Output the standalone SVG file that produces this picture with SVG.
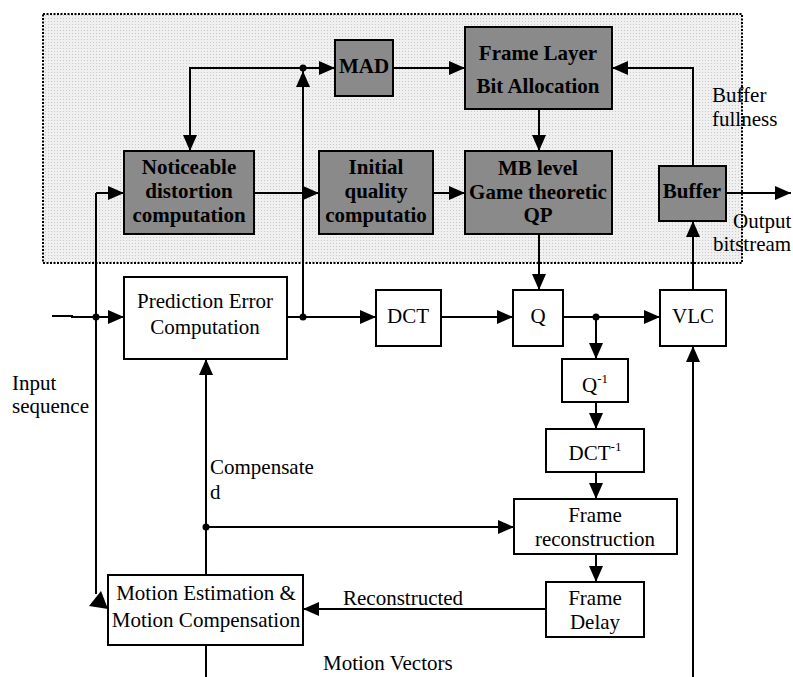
<svg xmlns="http://www.w3.org/2000/svg" width="793" height="677" viewBox="0 0 793 677">
<defs>
<pattern id="dots" width="3" height="3" patternUnits="userSpaceOnUse">
<rect width="3" height="3" fill="#f0f0f0"/>
<rect width="1" height="1" fill="#c8c8c8"/>
</pattern>
<marker id="ah" viewBox="0 0 16 14" refX="16" refY="7" markerWidth="16" markerHeight="14" markerUnits="userSpaceOnUse" orient="auto">
<path d="M0,0 L16,7 L0,14 Z" fill="#000"/>
</marker>
</defs>
<style>
.box{fill:#fff;stroke:#000;stroke-width:2}
.gbox{fill:#8a8a8a;stroke:#000;stroke-width:2}
.t{font-family:"Liberation Serif","Times New Roman",serif;font-size:21px;fill:#000}
.b{font-family:"Liberation Serif","Times New Roman",serif;font-size:21px;font-weight:bold;fill:#000}
.c{text-anchor:middle}
.ln{fill:none;stroke:#000;stroke-width:2}
.ar{fill:none;stroke:#000;stroke-width:2;marker-end:url(#ah)}
.dot{fill:#000}
</style>
<rect x="43" y="14" width="699" height="249" fill="url(#dots)" stroke="#000" stroke-width="2" stroke-dasharray="2,1.5"/>

<g id="connectors">
<path class="ln" d="M52,316 H72 V317 H80"/>
<path class="ar" d="M72,317 H124"/>
<path class="ln" d="M96,193 V594"/>
<polygon points="89,606 101,591 108,609" fill="#000"/>
<path class="ar" d="M96,193 H124"/>
<path class="ar" d="M254,193 H319"/>
<path class="ar" d="M303,317 V71"/>
<path class="ar" d="M303,68 H335"/>
<path class="ar" d="M303,68 H190 V151"/>
<path class="ar" d="M393,68 H465"/>
<path class="ar" d="M539,109 V151"/>
<path class="ar" d="M433,193 H465"/>
<path class="ar" d="M693,166 V68 H612"/>
<path class="ar" d="M726,193 H791"/>
<path class="ar" d="M539,234 V290"/>
<path class="ar" d="M693,290 V221"/>
<path class="ar" d="M287,317 H376"/>
<path class="ar" d="M441,317 H513"/>
<path class="ar" d="M563,317 H660"/>
<path class="ar" d="M596,317 V359"/>
<path class="ar" d="M596,402 V429"/>
<path class="ar" d="M596,472 V499"/>
<path class="ar" d="M596,554 V582"/>
<path class="ar" d="M546,609 H303"/>
<path class="ar" d="M206,575 V359"/>
<path class="ar" d="M206,527 H514"/>
<path class="ln" d="M206,645 V677"/>
<path class="ar" d="M693,677 V346"/>
<circle class="dot" cx="96" cy="317" r="3.5"/>
<circle class="dot" cx="303" cy="317" r="3.5"/>
<circle class="dot" cx="303" cy="68" r="3.5"/>
<circle class="dot" cx="596" cy="317" r="3.5"/>
<circle class="dot" cx="206" cy="527" r="3.5"/>
</g>

<g id="mad"><rect class="gbox" x="335" y="40" width="58" height="56"/><text class="b c" x="364" y="73">MAD</text></g>
<g id="frame-layer"><rect class="gbox" x="465" y="27" width="147" height="82"/><text class="b c" x="538" y="60">Frame Layer</text><text class="b c" x="538" y="93">Bit Allocation</text></g>
<g id="noticeable"><rect class="gbox" x="124" y="151" width="130" height="83"/><text class="b c" x="189" y="174">Noticeable</text><text class="b c" x="189" y="198">distortion</text><text class="b c" x="189" y="222">computation</text></g>
<g id="initial"><rect class="gbox" x="319" y="151" width="114" height="83"/><text class="b c" x="376" y="174">Initial</text><text class="b c" x="376" y="198">quality</text><text class="b c" x="376" y="222">computatio</text></g>
<g id="mb-level"><rect class="gbox" x="465" y="151" width="147" height="83"/><text class="b c" x="538" y="175">MB level</text><text class="b c" x="538" y="199">Game theoretic</text><text class="b c" x="538" y="222">QP</text></g>
<g id="buffer"><rect class="gbox" x="659" y="166" width="67" height="55"/><text class="b c" x="692" y="198">Buffer</text></g>

<g id="prediction"><rect class="box" x="124" y="277" width="163" height="82"/><text class="t c" x="205" y="308">Prediction Error</text><text class="t c" x="205" y="334">Computation</text></g>
<g id="dct"><rect class="box" x="376" y="290" width="65" height="56"/><text class="t c" x="408" y="323">DCT</text></g>
<g id="q"><rect class="box" x="513" y="290" width="50" height="56"/><text class="t c" x="538" y="323">Q</text></g>
<g id="vlc"><rect class="box" x="660" y="290" width="66" height="56"/><text class="t c" x="693" y="323">VLC</text></g>
<g id="qinv"><rect class="box" x="562" y="359" width="66" height="43"/><text class="t c" x="595" y="392">Q<tspan font-size="13" dy="-9">-1</tspan></text></g>
<g id="dctinv"><rect class="box" x="546" y="429" width="98" height="43"/><text class="t c" x="595" y="460">DCT<tspan font-size="13" dy="-9">-1</tspan></text></g>
<g id="frame-recon"><rect class="box" x="514" y="499" width="163" height="55"/><text class="t c" x="595" y="522">Frame</text><text class="t c" x="595" y="546">reconstruction</text></g>
<g id="frame-delay"><rect class="box" x="546" y="582" width="98" height="55"/><text class="t c" x="595" y="605">Frame</text><text class="t c" x="595" y="629">Delay</text></g>
<g id="motion"><rect class="box" x="108" y="575" width="195" height="70"/><text class="t c" x="206" y="600">Motion Estimation &amp;</text><text class="t c" x="206" y="627">Motion Compensation</text></g>

<g id="labels">
<text class="t" x="712" y="102">Buffer</text>
<text class="t" x="712" y="126">fullness</text>
<text class="t" x="733" y="228">Output</text>
<text class="t" x="713" y="251">bitstream</text>
<text class="t" x="12" y="390">Input</text>
<text class="t" x="12" y="413">sequence</text>
<text class="t" x="210" y="474">Compensate</text>
<text class="t" x="210" y="499">d</text>
<text class="t" x="343" y="605">Reconstructed</text>
<text class="t" x="323" y="670">Motion Vectors</text>
</g>
</svg>
